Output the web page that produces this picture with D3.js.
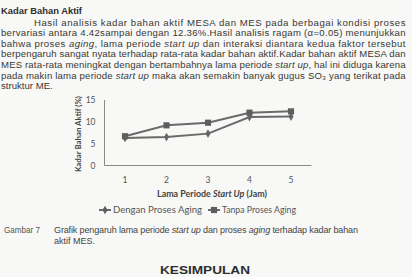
<!DOCTYPE html>
<html><head><meta charset="utf-8">
<script src="https://cdn.jsdelivr.net/npm/d3@7"></script>
<style>
html,body{margin:0;padding:0;background:#f8f8f6;overflow:hidden}
svg{display:block}
</style></head>
<body>
<script>
// ---- data ----
const categories = ["1","2","3","4","5"];
const seriesNames = ["Dengan Proses Aging","Tanpa Proses Aging"];
const dengan = [6.3, 6.5, 7.3, 11.1, 11.2];
const tanpa  = [6.7, 9.2, 9.8, 12.1, 12.4];
const yTicks = [0, 5, 10, 15];

const W = 412, H = 277;
const svg = d3.select("body").append("svg").attr("width", W).attr("height", H);
const bodyFont = "'Liberation Sans', Arial, sans-serif";
const chartFont = "Lato, 'Open Sans', sans-serif";
const txtCol = "#383838";

// ---- paragraph ----
svg.append("text").attr("x", 1).attr("y", 14).attr("font-family", bodyFont)
  .attr("font-weight", "bold").attr("font-size", 9.5).attr("fill", "#2e2e2e")
  .attr("textLength", 81).attr("lengthAdjust", "spacingAndGlyphs").text("Kadar Bahan Aktif");

const lines = [
  {x:34, parts:[["Hasil analisis kadar bahan aktif MESA dan MES pada berbagai kondisi proses",0]], j:true},
  {x:1, parts:[["bervariasi antara 4.42sampai dengan 12.36%.Hasil analisis ragam (\u03b1=0.05) menunjukkan",0]], j:true},
  {x:1, parts:[["bahwa proses ",0],["aging",1],[", lama periode ",0],["start up",1],[" dan interaksi diantara kedua faktor tersebut",0]], j:true},
  {x:1, parts:[["berpengaruh sangat nyata terhadap rata-rata kadar bahan aktif.Kadar bahan aktif MESA dan",0]], j:true},
  {x:1, parts:[["MES rata-rata meningkat dengan bertambahnya lama periode ",0],["start up",1],[", hal ini diduga karena",0]], j:true},
  {x:1, parts:[["pada makin lama periode ",0],["start up",1],[" maka akan semakin banyak gugus SO\u2083 yang terikat pada",0]], j:true},
  {x:1, parts:[["struktur ME.",0]], j:false}
];
lines.forEach((ln, i) => {
  const t = svg.append("text").attr("x", ln.x).attr("y", 25.5 + i * 10.6)
    .attr("font-family", bodyFont).attr("font-size", 9.6).attr("fill", txtCol);
  if (ln.j) t.attr("textLength", 405.5 - ln.x).attr("lengthAdjust", "spacing");
  ln.parts.forEach(p => t.append("tspan").attr("font-style", p[1] ? "italic" : "normal").text(p[0]));
});

// ---- chart ----
const x = d3.scalePoint().domain(categories).range([125, 291]);
const y = d3.scaleLinear().domain([0, 15]).range([165.5, 100]);
const axisCol = "#8a8a8a";

// axes lines
svg.append("line").attr("x1", 104.5).attr("x2", 104.5).attr("y1", y(15)).attr("y2", y(0))
  .attr("stroke", axisCol).attr("stroke-width", 1);
svg.append("line").attr("x1", 104.5).attr("x2", 311.5).attr("y1", y(0)).attr("y2", y(0))
  .attr("stroke", axisCol).attr("stroke-width", 1);

// y tick labels
svg.selectAll(".yt").data(yTicks).enter().append("text")
  .attr("x", 95.5).attr("y", d => y(d) + 3).attr("text-anchor", "end")
  .attr("font-family", chartFont).attr("font-size", 8.5).attr("fill", "#555").text(d => d);

// x tick labels
svg.selectAll(".xt").data(categories).enter().append("text")
  .attr("x", d => x(d)).attr("y", 183).attr("text-anchor", "middle")
  .attr("font-family", chartFont).attr("font-size", 8.5).attr("fill", "#555").text(d => d);

// axis titles
svg.append("text").attr("transform", "translate(80.5,134) rotate(-90)").attr("text-anchor", "middle")
  .attr("font-family", chartFont).attr("font-weight", "bold").attr("font-size", 8).attr("fill", "#444")
  .attr("textLength", 76).attr("lengthAdjust", "spacingAndGlyphs").text("Kadar Bahan Aktif (%)");

const xt = svg.append("text").attr("x", 157).attr("y", 196.5)
  .attr("font-family", chartFont).attr("font-weight", "bold").attr("font-size", 9).attr("fill", "#444")
  .attr("textLength", 110).attr("lengthAdjust", "spacingAndGlyphs");
xt.append("tspan").text("Lama Periode ");
xt.append("tspan").attr("font-style", "italic").text("Start Up");
xt.append("tspan").text("  (Jam)");

// lines
const lineGen = d3.line().x((d, i) => x(categories[i])).y(d => y(d));
const lineCol = "#6a6a6a";
[dengan, tanpa].forEach(s => {
  svg.append("path").datum(s).attr("d", lineGen).attr("fill", "none")
    .attr("stroke", lineCol).attr("stroke-width", 2);
});
// markers
const sym = [d3.symbolDiamond, d3.symbolSquare];
const symSize = [22, 38];
[dengan, tanpa].forEach((s, k) => {
  svg.selectAll(".m" + k).data(s).enter().append("path")
    .attr("transform", (d, i) => `translate(${x(categories[i])},${y(d)})`)
    .attr("d", d3.symbol().type(sym[k]).size(symSize[k]))
    .attr("fill", k ? "#5e5e5e" : "#666");
});

// legend
const legX = [99, 208], legTxtW = [89, 74];
seriesNames.forEach((n, k) => {
  const g = svg.append("g");
  g.append("line").attr("x1", legX[k]).attr("x2", legX[k] + 12).attr("y1", 210).attr("y2", 210)
    .attr("stroke", lineCol).attr("stroke-width", 2);
  g.append("path").attr("transform", `translate(${legX[k] + 6},210)`)
    .attr("d", d3.symbol().type(sym[k]).size(symSize[k])).attr("fill", "#5e5e5e");
  g.append("text").attr("x", legX[k] + 14).attr("y", 213)
    .attr("font-family", chartFont).attr("font-size", 8.5).attr("fill", "#555")
    .attr("textLength", legTxtW[k]).attr("lengthAdjust", "spacingAndGlyphs").text(n);
});

// ---- caption ----
svg.append("text").attr("x", 4).attr("y", 233).attr("font-family", bodyFont).attr("font-size", 9)
  .attr("fill", "#555").attr("textLength", 36).attr("lengthAdjust", "spacingAndGlyphs").text("Gambar 7");
const cap = svg.append("text").attr("x", 54).attr("y", 233).attr("font-family", bodyFont)
  .attr("font-size", 9).attr("fill", "#444").attr("textLength", 304).attr("lengthAdjust", "spacing");
[["Grafik pengaruh lama periode ",0],["start up",1],[" dan proses ",0],["aging",1],[" terhadap kadar bahan",0]]
  .forEach(p => cap.append("tspan").attr("font-style", p[1] ? "italic" : "normal").text(p[0]));
svg.append("text").attr("x", 54).attr("y", 244).attr("font-family", bodyFont).attr("font-size", 9)
  .attr("fill", "#444").text("aktif MES.");

svg.append("text").attr("x", 160).attr("y", 274).attr("font-family", bodyFont).attr("font-weight", "bold")
  .attr("font-size", 10.5).attr("fill", "#2e2e2e").attr("textLength", 90)
  .attr("lengthAdjust", "spacingAndGlyphs").text("KESIMPULAN");
</script>
</body></html>
